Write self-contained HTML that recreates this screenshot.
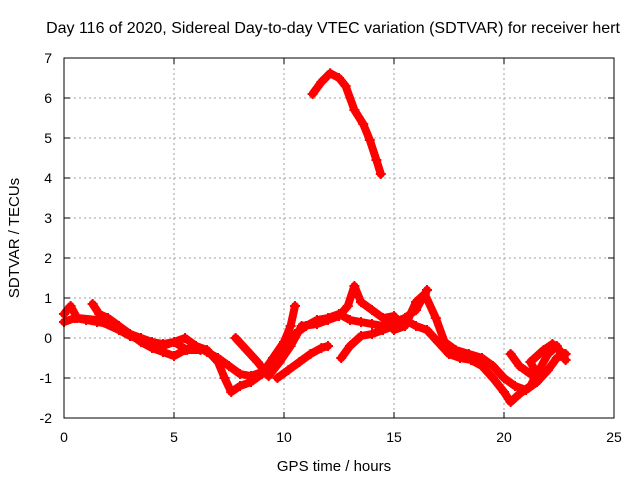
<!DOCTYPE html>
<html><head><meta charset="utf-8"><style>
body{margin:0;background:#fff;}
svg{display:block;font-family:"Liberation Sans",sans-serif;}
</style></head><body>
<svg id="chart" width="640" height="480">
<rect width="640" height="480" fill="#fff"/>
<text x="333" y="33" font-size="16" text-anchor="middle">Day 116 of 2020, Sidereal Day-to-day VTEC variation (SDTVAR) for receiver hert</text>
<g id="grid"></g>
<g id="series"></g>
<rect x="64" y="58" width="550" height="360" fill="none" stroke="#000" stroke-width="1"/>
<g id="ticks"></g>
<text x="334" y="471" font-size="15" text-anchor="middle">GPS time / hours</text>
<text transform="translate(19,238) rotate(-90)" font-size="15" text-anchor="middle">SDTVAR / TECUs</text>
</svg>
<script>
const xTicks=[0,5,10,15,20,25];
const yTicks=[-2,-1,0,1,2,3,4,5,6,7];
const trackTop=[[11.3,6.1],[11.7,6.4],[12.1,6.62],[12.5,6.5],[12.8,6.3],[13.2,5.7],[13.6,5.35],[13.9,4.95],[14.2,4.45],[14.4,4.1]];
const trackA=[[0,0.4],[0.5,0.5],[1,0.45],[1.5,0.4],[2,0.35],[2.5,0.2],[3,0.05],[3.5,-0.05],[4,-0.1],[4.5,-0.15],[5,-0.1],[5.5,0],[6,-0.2],[6.5,-0.35],[7,-0.5],[7.5,-0.7],[8,-0.9],[8.5,-0.95],[9,-0.85],[9.5,-0.55],[10,-0.3],[10.5,0.1],[11,0.3],[11.5,0.45],[12,0.5],[12.5,0.6],[13,0.45],[13.5,0.4],[14,0.35],[14.5,0.3],[15,0.4],[15.5,0.5],[16,0.7],[16.5,1.2]];
const trackB=[[1.3,0.85],[1.6,0.6],[2,0.5],[2.5,0.3],[3,0.1],[3.5,-0.1],[4,-0.25],[4.5,-0.35],[5,-0.45],[5.5,-0.3],[6,-0.2],[6.5,-0.3],[7,-0.6],[7.3,-1.0],[7.6,-1.35],[8,-1.2],[8.5,-1.1],[9,-0.9],[9.5,-0.5],[10,-0.1],[10.3,0.3],[10.5,0.8]];
const trackC=[[0,0.6],[0.3,0.8],[0.6,0.5],[1.5,0.45],[2.5,0.2],[3.5,0],[4.5,-0.2],[5,-0.1],[5.6,-0.3],[6.2,-0.3]];
const trackD=[[7.8,0],[8.3,-0.3],[8.8,-0.6],[9.3,-0.95],[9.8,-0.6],[10.3,-0.2],[10.8,0.3],[11.5,0.35],[12,0.45],[12.5,0.55],[12.9,0.8],[13.2,1.3],[13.5,0.9],[14,0.7],[14.5,0.5],[15,0.55]];
const trackE=[[9.7,-1.0],[10.2,-0.8],[10.7,-0.6],[11.2,-0.4],[11.7,-0.25],[12.0,-0.2]];
const trackF=[[12.6,-0.5],[13,-0.2],[13.5,0.05],[14,0.1],[14.5,0.2],[15,0.3],[15.5,0.45],[16,0.3],[16.5,0.2],[17,-0.1],[17.5,-0.4],[18,-0.5],[18.5,-0.55],[19,-0.7],[19.5,-1.0],[20,-1.35],[20.3,-1.6],[20.7,-1.4],[21.2,-1.2],[21.6,-0.8],[22,-0.4],[22.4,-0.2],[22.8,-0.55]];
const trackG=[[15,0.2],[15.5,0.3],[16,0.9],[16.4,1.1],[16.9,0.5],[17.3,-0.1],[17.8,-0.3],[18.4,-0.4],[19,-0.5],[19.5,-0.7],[20,-1.0],[20.5,-1.2],[21,-1.3],[21.5,-1.1],[22,-0.8],[22.4,-0.5],[22.8,-0.4]];
const trackH=[[20.3,-0.4],[20.7,-0.7],[21.2,-0.9],[21.6,-1.0],[21.2,-0.6],[21.8,-0.3],[22.2,-0.15],[22.7,-0.4]];
const tracks=[trackTop,trackA,trackB,trackC,trackD,trackE,trackF,trackG,trackH];
const trackNames=['track-top','track-a','track-b','track-c','track-d','track-e','track-f','track-g','track-h'];
const X=h=>64+h*22, Y=v=>338-v*40;
const NS='http://www.w3.org/2000/svg';
const grid=document.getElementById('grid'),ticks=document.getElementById('ticks'),ser=document.getElementById('series');
function mk(tag,a,p){const e=document.createElementNS(NS,tag);for(const k in a)e.setAttribute(k,a[k]);p.appendChild(e);return e;}
xTicks.forEach(t=>{
 if(t>0&&t<25){const g=mk('line',{x1:X(t),x2:X(t),y1:58,y2:418,stroke:'#a0a0a0','stroke-dasharray':'2,3'},grid);
 
 }
 mk('line',{x1:X(t),x2:X(t),y1:418,y2:412,stroke:'#000'},ticks);
 mk('line',{x1:X(t),x2:X(t),y1:58,y2:64,stroke:'#000'},ticks);
 const l=mk('text',{x:X(t),y:442,'font-size':14,'text-anchor':'middle'},ticks);l.textContent=t;
 
 
});
yTicks.forEach(t=>{
 if(t>-2&&t<7){const g=mk('line',{x1:64,x2:614,y1:Y(t),y2:Y(t),stroke:'#a0a0a0','stroke-dasharray':'2,3'},grid);
 
 }
 mk('line',{x1:64,x2:70,y1:Y(t),y2:Y(t),stroke:'#000'},ticks);
 mk('line',{x1:614,x2:608,y1:Y(t),y2:Y(t),stroke:'#000'},ticks);
 const l=mk('text',{x:52,y:Y(t)+5,'font-size':14,'text-anchor':'end'},ticks);l.textContent=t;
 
 
});
tracks.forEach((tr,i)=>{
 const p=mk('polyline',{points:tr.map(d=>X(d[0])+','+Y(d[1])).join(' '),fill:'none',stroke:'#f00','stroke-width':8,'stroke-linejoin':'round','stroke-linecap':'round'},ser);
 
 
 tr.forEach(d=>{
  const m=mk('path',{d:`M${X(d[0])-5},${Y(d[1])}h10M${X(d[0])},${Y(d[1])-5}v10`,stroke:'#f00','stroke-width':2},ser);
  
  
 });
});
</script>
</body></html>
